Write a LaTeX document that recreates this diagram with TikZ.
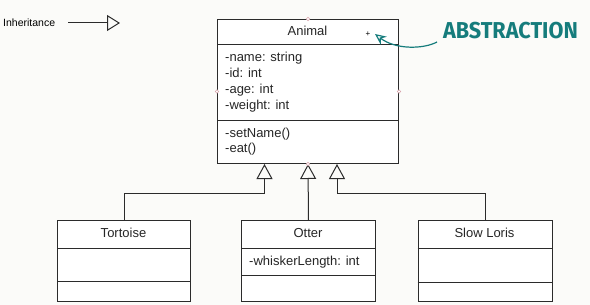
\documentclass[tikz,border=0pt]{standalone}
\usepackage{fontspec}
\setmainfont{Liberation Sans}
\newfontfamily\headlinefont{Fira Sans}
\usetikzlibrary{arrows.meta,calc}
\definecolor{paper}{HTML}{FBFBF9}
\definecolor{umlline}{HTML}{2B2B2B}
\definecolor{callout}{HTML}{157C7C}
\definecolor{handle}{HTML}{D8A4AC}
\begin{document}
\begin{tikzpicture}[x=1pt,y=-1pt,
  classbox/.style={draw=umlline,line width=1pt,fill=white,rectangle,inner sep=0pt,anchor=north west},
  member/.style={anchor=base west,inner sep=0pt,font=\fontsize{13}{15}\selectfont,text=black!85},
  title/.style={anchor=base,inner sep=0pt,font=\fontsize{13}{15}\selectfont,text=black!85},
  divider/.style={draw=umlline,line width=1pt},
  inherit/.style={draw=umlline,line width=1pt,-{Triangle[open,length=15pt,width=16pt,line width=1pt]}},
  grip/.style={circle,draw=handle,fill=white,line width=0.5pt,inner sep=0pt,minimum size=3.5pt}
]
\useasboundingbox[fill=paper] (0,0) rectangle (590,305);

% legend
\node[anchor=base west,inner sep=0pt,font=\fontsize{10.5}{12}\selectfont] (legend) at (3,27) {Inheritance};
\coordinate (legA) at (68,23);
\coordinate (legB) at (120,23);
\draw[draw=umlline,line width=1pt,-{Triangle[open,length=13pt,width=16pt,line width=1pt]}] (legA) -- (legB);

% parent class
\node[classbox,minimum width=181pt,minimum height=144pt] (animal) at (217,19) {};
\draw[divider] (217,45) -- (398,45);
\draw[divider] (217,121) -- (398,121);
\node[title] (animalname) at (307.5,35.5) {Animal};
\node[inner sep=0pt,font=\fontsize{8}{9}\selectfont] (plus) at (368,34) {+};
\node[member] (a1) at (225,61.5) {-name: string};
\node[member] (a2) at (225,77.5) {-id: int};
\node[member] (a3) at (225,93.5) {-age: int};
\node[member] (a4) at (225,110) {-weight: int};
\node[member] (m1) at (225,137.5) {-setName()};
\node[member] (m2) at (225,152.5) {-eat()};

% child classes
\node[classbox,minimum width=133pt,minimum height=81pt] (tortoise) at (57,220) {};
\draw[divider] (57,248) -- (190,248);
\draw[divider] (57,281) -- (190,281);
\node[title] (tortoisename) at (123.5,237.5) {Tortoise};

\node[classbox,minimum width=134pt,minimum height=81pt] (otter) at (241,220) {};
\draw[divider] (241,248) -- (375,248);
\draw[divider] (241,275) -- (375,275);
\node[title] (ottername) at (308,237.5) {Otter};
\node[member] (o1) at (249,265.5) {-whiskerLength: int};

\node[classbox,minimum width=134pt,minimum height=81pt] (loris) at (417.5,220) {};
\draw[divider] (417.5,248) -- (551.5,248);
\draw[divider] (417.5,282) -- (551.5,282);
\node[title] (lorisname) at (484.5,237.5) {Slow Loris};

% generalisation connectors
\coordinate (tipT) at ($(animal.south)+(-43.5,0)$);
\coordinate (tipO) at (animal.south);
\coordinate (tipL) at ($(animal.south)+(29,0)$);
\draw[inherit] (tortoise.north) |- ($(tipT)+(0,29)$) -- (tipT);
\draw[inherit] (otter.north) -- (tipO);
\draw[inherit] (loris.north) |- ($(tipL)+(0,29)$) -- (tipL);

% selection grips
\node[grip] (g1) at (animal.north) {};
\node[grip] (g2) at (animal.west) {};
\node[grip] (g3) at (animal.east) {};
\node[grip] (g4) at (animal.south) {};

% callout
\node[inner sep=0pt,anchor=west,font=\headlinefont\bfseries\fontsize{23}{24}\selectfont,text=callout,xscale=0.94] (abstr) at (443,31) {ABSTRACTION};
\coordinate (calloutstart) at (437,42);
\coordinate (callouttip) at (375,34);
\draw[callout,line width=1.2pt,-{Stealth[open,length=11pt,width=10pt,line width=1.2pt]}]
  (calloutstart) .. controls (424,49) and (396,50) .. (callouttip);
\end{tikzpicture}
\end{document}
